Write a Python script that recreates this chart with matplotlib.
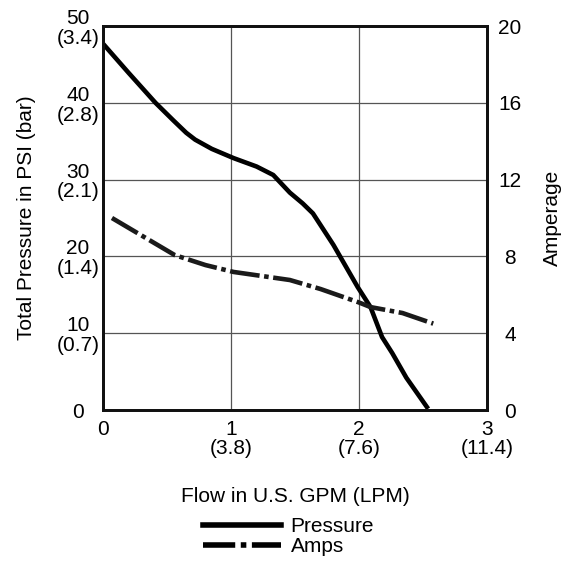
import matplotlib
matplotlib.use("Agg")
import matplotlib.pyplot as plt
from matplotlib.lines import Line2D

plt.rcParams['font.family'] = ['Liberation Sans', 'DejaVu Sans']
plt.rcParams['font.size'] = 15

# Courbe de pression (GPM, PSI)
flow_p = [0.0, 0.2, 0.41, 0.55, 0.65, 0.72, 0.85, 1.02, 1.2, 1.33, 1.46, 1.56, 1.64, 1.8, 1.99, 2.09, 2.18, 2.26, 2.37, 2.53]
pressure = [47.7, 43.9, 40.0, 37.7, 36.1, 35.2, 34.0, 32.8, 31.7, 30.6, 28.3, 26.9, 25.6, 21.5, 16.0, 13.4, 9.5, 7.4, 4.2, 0.4]

# Courbe d'intensite (GPM, A)
flow_a = [0.07, 0.56, 0.8, 1.02, 1.46, 1.7, 2.0, 2.09, 2.34, 2.58]
amps = [10.0, 8.07, 7.55, 7.19, 6.77, 6.3, 5.6, 5.36, 5.05, 4.5]

x_ticks = [0, 1, 2, 3]
x_labels = ['0', '1\n(3.8)', '2\n(7.6)', '3\n(11.4)']
y_ticks = [0, 10, 20, 30, 40, 50]
y_labels = ['0', '10\n(0.7)', '20\n(1.4)', '30\n(2.1)', '40\n(2.8)', '50\n(3.4)']
a_ticks = [0, 4, 8, 12, 16, 20]

fig = plt.figure(figsize=(5.71, 5.66), dpi=100)
ax = fig.add_axes([103/571, 1 - 410/566, 384/571, 384/566])
ax2 = ax.twinx()

ax.plot(flow_p, pressure, color='black', lw=3.3, solid_joinstyle='round')
ax2.plot(flow_a, amps, color='#1a1a1a', lw=3.3, linestyle=(0, (6.5, 1, 1, 1)))

ax.set_xlim(0, 3)
ax.set_ylim(0, 50)
ax2.set_ylim(0, 20)

ax.set_xticks(x_ticks)
ax.set_xticklabels(x_labels, linespacing=1.05)
ax.set_yticks(y_ticks)
ax.set_yticklabels(y_labels, linespacing=1.05, ha='center')
ax2.set_yticks(a_ticks)
ax2.set_yticklabels([str(t) for t in a_ticks], ha='center')

ax.tick_params(axis='x', length=0, pad=7)
ax.tick_params(axis='y', length=0, pad=18)
ax2.tick_params(axis='y', length=0, pad=16.5)

ax.grid(True, color='#555555', lw=0.9)
for a in (ax, ax2):
    for s in a.spines.values():
        s.set_linewidth(2)
        s.set_color('#111111')

ax.set_ylabel('Total Pressure in PSI (bar)')
ax.yaxis.set_label_coords(-0.175, 0.5)
ax2.set_ylabel('Amperage')
ax2.yaxis.set_label_coords(1.145, 0.5)

fig.text(295/571, 1 - 497/566, 'Flow in U.S. GPM (LPM)', ha='center', va='center')

handles = [Line2D([], [], color='black', lw=4),
           Line2D([], [], color='black', lw=4, linestyle=(0, (5.8, 1, 1, 1)))]
fig.legend(handles, ['Pressure', 'Amps'], loc='upper left',
           bbox_to_anchor=(203/571, 1 - 517/566), frameon=False, borderpad=0,
           borderaxespad=0, handlelength=3.75, handletextpad=0.45, labelspacing=0.05)

fig.savefig('out.png', dpi=100)
